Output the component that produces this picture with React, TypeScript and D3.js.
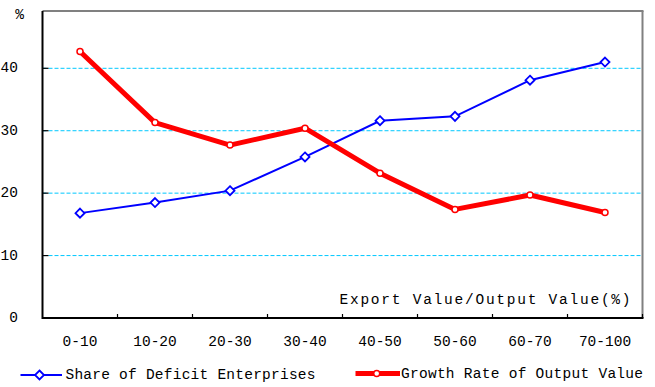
import React from "react";
import * as d3 from "d3";

const categories = ["0-10", "10-20", "20-30", "30-40", "40-50", "50-60", "60-70", "70-100"];
const deficitShare = [16.8, 18.5, 20.4, 25.8, 31.6, 32.3, 38.1, 41.0];
const growthRate = [42.7, 31.3, 27.7, 30.4, 23.2, 17.4, 19.7, 16.9];
const yTicks = [0, 10, 20, 30, 40];
const gridTicks = [10, 20, 30, 40];
const xTitle = "Export Value/Output Value(%)";
const yUnit = "%";
const seriesNames = ["Share of Deficit Enterprises", "Growth Rate of Output Value"];

const W = 655;
const H = 387;
const left = 42.5;
const right = 642.5;
const top = 11;
const bottom = 318;
const FONT = "'Liberation Mono', 'DejaVu Sans Mono', monospace";

export default function App() {
  const x = d3.scaleBand<string>().domain(categories).range([left, right]).padding(0);
  const y = d3.scaleLinear().domain([0, 40]).range([bottom, 68.3]);
  const cx = (c: string) => (x(c) as number) + x.bandwidth() / 2;
  const line = d3
    .line<number>()
    .x((_, i) => cx(categories[i]))
    .y((d) => y(d));
  const diamond = (px: number, py: number, r: number) =>
    `M${px},${py - r}L${px + r},${py}L${px},${py + r}L${px - r},${py}Z`;

  return (
    <svg
      width={W}
      height={H}
      style={{ position: "absolute", left: 0, top: 0, background: "#fff" }}
      fontFamily={FONT}
    >
      <rect x={0} y={0} width={W} height={H} fill="#fff" />
      {gridTicks.map((t) => (
        <line
          key={t}
          x1={left}
          x2={right}
          y1={y(t)}
          y2={y(t)}
          stroke="#00C8FF"
          strokeWidth={1}
          strokeDasharray="4 2"
        />
      ))}
      {/* plot border top and right */}
      <line x1={left} x2={right + 1} y1={top} y2={top} stroke="#808080" strokeWidth={2} />
      <line x1={right} x2={right} y1={top} y2={bottom} stroke="#808080" strokeWidth={2} />
      {/* axes */}
      <line x1={left} x2={left} y1={top} y2={bottom + 1} stroke="#000" strokeWidth={2} />
      <line x1={left} x2={right + 1} y1={bottom} y2={bottom} stroke="#000" strokeWidth={2} />
      {yTicks.map((t) => (
        <g key={t}>
          <line x1={left} x2={left + 6} y1={y(t)} y2={y(t)} stroke="#000" strokeWidth={1.2} />
          <text x={18} y={y(t)} textAnchor="end" dominantBaseline="central" fontSize={14.5} fill="#000">
            {t}
          </text>
        </g>
      ))}
      <text x={19.5} y={15} textAnchor="middle" dominantBaseline="central" fontSize={14.5} fill="#000">
        {yUnit}
      </text>
      {categories.map((c, i) => (
        <g key={c}>
          {i > 0 && (
            <line
              x1={x(c) as number}
              x2={x(c) as number}
              y1={bottom}
              y2={bottom - 4}
              stroke="#000"
              strokeWidth={1.2}
            />
          )}
          <text x={cx(c)} y={342} textAnchor="middle" dominantBaseline="central" fontSize={14.5} fill="#000">
            {c}
          </text>
        </g>
      ))}
      <line x1={right} x2={right} y1={bottom} y2={bottom - 4} stroke="#000" strokeWidth={1.2} />
      <text
        x={339.5}
        y={300}
        dominantBaseline="central"
        fontSize={14.5}
        fill="#000"
        textLength={291}
        lengthAdjust="spacing"
      >
        {xTitle}
      </text>

      {/* Blue series */}
      <path d={line(deficitShare) || ""} fill="none" stroke="#0000FF" strokeWidth={2} />
      {deficitShare.map((d, i) => (
        <path
          key={i}
          d={diamond(cx(categories[i]), y(d), 4.5)}
          fill="#fff"
          stroke="#0000FF"
          strokeWidth={1.8}
        />
      ))}

      {/* Red series */}
      <path d={line(growthRate) || ""} fill="none" stroke="#FF0000" strokeWidth={5} strokeLinejoin="round" />
      {growthRate.map((d, i) => (
        <circle key={i} cx={cx(categories[i])} cy={y(d)} r={3} fill="#fff" stroke="#FF0000" strokeWidth={1.5} />
      ))}

      {/* Legend */}
      <line x1={20.5} x2={62} y1={375} y2={375} stroke="#0000FF" strokeWidth={2} />
      <path d={diamond(39.5, 375, 4.5)} fill="#fff" stroke="#0000FF" strokeWidth={1.8} />
      <text x={65.5} y={375} dominantBaseline="central" fontSize={14.5} fill="#000" textLength={250} lengthAdjust="spacing">
        {seriesNames[0]}
      </text>
      <line x1={355.5} x2={400} y1={373.5} y2={373.5} stroke="#FF0000" strokeWidth={5} />
      <circle cx={376.7} cy={373.5} r={3} fill="#fff" stroke="#FF0000" strokeWidth={1.5} />
      <text x={401} y={374} dominantBaseline="central" fontSize={14.5} fill="#000" textLength={242} lengthAdjust="spacing">
        {seriesNames[1]}
      </text>
    </svg>
  );
}
